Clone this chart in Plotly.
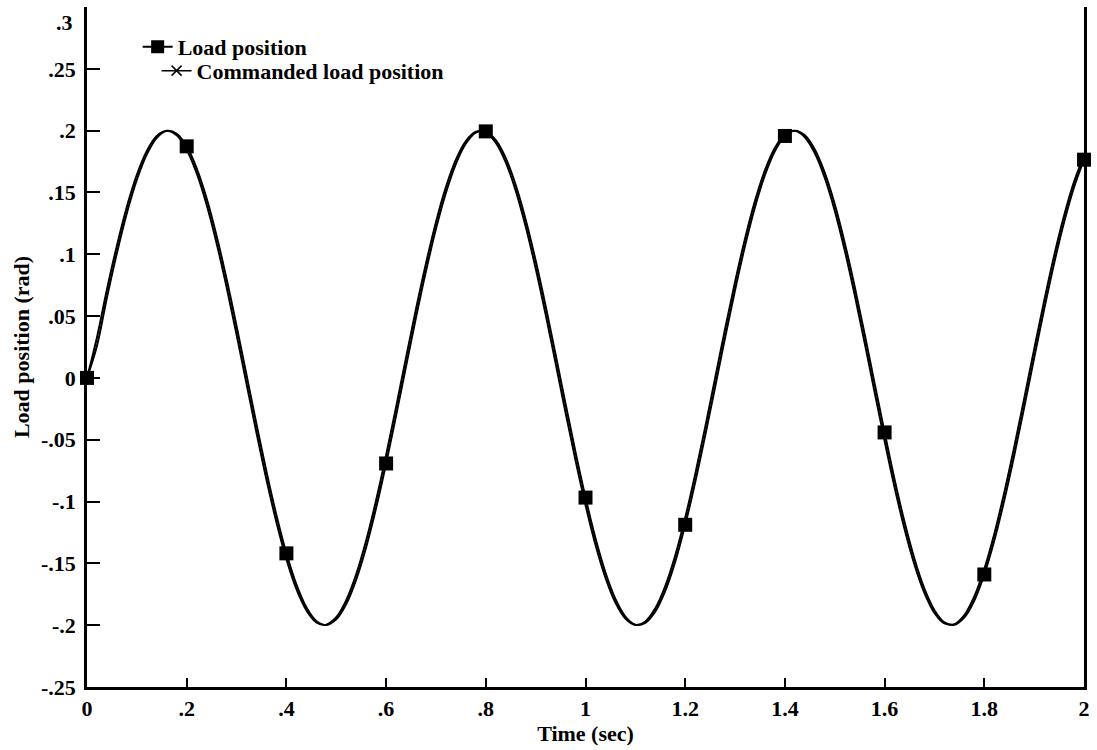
import plotly.graph_objects as go

# Sample times (s)
time_s = [
    0.00, 0.02, 0.04, 0.06, 0.08, 0.10, 0.12, 0.14, 0.16, 0.18,
    0.20, 0.22, 0.24, 0.26, 0.28, 0.30, 0.32, 0.34, 0.36, 0.38,
    0.40, 0.42, 0.44, 0.46, 0.48, 0.50, 0.52, 0.54, 0.56, 0.58,
    0.60, 0.62, 0.64, 0.66, 0.68, 0.70, 0.72, 0.74, 0.76, 0.78,
    0.80, 0.82, 0.84, 0.86, 0.88, 0.90, 0.92, 0.94, 0.96, 0.98,
    1.00, 1.02, 1.04, 1.06, 1.08, 1.10, 1.12, 1.14, 1.16, 1.18,
    1.20, 1.22, 1.24, 1.26, 1.28, 1.30, 1.32, 1.34, 1.36, 1.38,
    1.40, 1.42, 1.44, 1.46, 1.48, 1.50, 1.52, 1.54, 1.56, 1.58,
    1.60, 1.62, 1.64, 1.66, 1.68, 1.70, 1.72, 1.74, 1.76, 1.78,
    1.80, 1.82, 1.84, 1.86, 1.88, 1.90, 1.92, 1.94, 1.96, 1.98,
    2.00,
]

# Commanded load position (rad)
commanded = [
    0.0000, 0.0328, 0.0715, 0.1070, 0.1385, 0.1643, 0.1836, 0.1957, 0.1999, 0.1962,
    0.1846, 0.1656, 0.1401, 0.1090, 0.0735, 0.0351, -0.0047, -0.0443, -0.0822, -0.1167,
    -0.1467, -0.1707, -0.1879, -0.1977, -0.1996, -0.1936, -0.1798, -0.1589, -0.1316, -0.0990,
    -0.0626, -0.0236, 0.0164, 0.0557, 0.0926, 0.1260, 0.1543, 0.1765, 0.1916, 0.1991,
    0.1987, 0.1902, 0.1744, 0.1515, 0.1225, 0.0887, 0.0514, 0.0120, -0.0280, -0.0667,
    -0.1028, -0.1349, -0.1615, -0.1817, -0.1946, -0.1998, -0.1970, -0.1864, -0.1684, -0.1437,
    -0.1131, -0.0781, -0.0400, -0.0003, 0.0395, 0.0776, 0.1126, 0.1432, 0.1680, 0.1862,
    0.1969, 0.1998, 0.1947, 0.1818, 0.1617, 0.1353, 0.1032, 0.0672, 0.0284, -0.0116,
    -0.0509, -0.0884, -0.1222, -0.1511, -0.1741, -0.1901, -0.1986, -0.1991, -0.1918, -0.1767,
    -0.1546, -0.1262, -0.0928, -0.0560, -0.0168, 0.0231, 0.0621, 0.0987, 0.1312, 0.1586,
    0.1796,
]

# Measured load position (rad)
load = [
    0.0000, 0.0260, 0.0650, 0.1011, 0.1334, 0.1603, 0.1808, 0.1942, 0.1998, 0.1975,
    0.1873, 0.1695, 0.1451, 0.1148, 0.0800, 0.0420, 0.0023, -0.0375, -0.0758, -0.1110,
    -0.1419, -0.1670, -0.1855, -0.1966, -0.1999, -0.1953, -0.1829, -0.1631, -0.1369, -0.1051,
    -0.0692, -0.0305, 0.0094, 0.0490, 0.0864, 0.1206, 0.1498, 0.1732, 0.1896, 0.1984,
    0.1994, 0.1923, 0.1778, 0.1560, 0.1280, 0.0949, 0.0581, 0.0190, -0.0211, -0.0601,
    -0.0968, -0.1297, -0.1574, -0.1787, -0.1930, -0.1996, -0.1981, -0.1889, -0.1722, -0.1486,
    -0.1188, -0.0845, -0.0468, -0.0073, 0.0327, 0.0711, 0.1068, 0.1383, 0.1642, 0.1836,
    0.1957, 0.2000, 0.1962, 0.1847, 0.1658, 0.1404, 0.1092, 0.0738, 0.0353, -0.0046,
    -0.0441, -0.0821, -0.1166, -0.1465, -0.1707, -0.1879, -0.1978, -0.1997, -0.1937, -0.1800,
    -0.1590, -0.1316, -0.0990, -0.0627, -0.0238, 0.0162, 0.0555, 0.0926, 0.1259, 0.1543,
    0.1765,
]

x_tickvals = [0, 0.2, 0.4, 0.6, 0.8, 1.0, 1.2, 1.4, 1.6, 1.8, 2.0]
x_ticktext = ["0", ".2", ".4", ".6", ".8", "1", "1.2", "1.4", "1.6", "1.8", "2"]
y_tickvals = [-0.25, -0.2, -0.15, -0.1, -0.05, 0, 0.05, 0.1, 0.15, 0.2, 0.25]
y_ticktext = ["-.25", "-.2", "-.15", "-.1", "-.05", "0", ".05", ".1", ".15", ".2", ".25"]
y_top = 0.3
y_top_text = ".3"

FONT = "Liberation Serif"
INK = "black"
TXT = dict(family=FONT, size=22, color=INK, weight="bold")

fig = go.Figure()

fig.add_trace(go.Scatter(
    x=time_s, y=commanded, mode="lines", line=dict(color=INK, width=2),
    line_shape="spline", showlegend=False, hoverinfo="skip",
))
fig.add_trace(go.Scatter(
    x=time_s, y=load, mode="lines", line=dict(color=INK, width=2),
    line_shape="spline", showlegend=False,
))
# square markers every 0.2 s on the measured curve
fig.add_trace(go.Scatter(
    x=time_s[::10], y=load[::10], mode="markers",
    marker=dict(symbol="square", size=14, color=INK),
    showlegend=False, cliponaxis=False,
))

# legend entries
fig.add_trace(go.Scatter(
    x=[None], y=[None], mode="lines+markers", name="Load position",
    line=dict(color=INK, width=2),
    marker=dict(symbol="square", size=13, color=INK),
    legend="legend",
))
fig.add_trace(go.Scatter(
    x=[None], y=[None], mode="lines+markers", name="Commanded load position",
    line=dict(color=INK, width=1.5),
    marker=dict(symbol="x-thin", size=10, color=INK, line=dict(color=INK, width=1.5)),
    legend="legend2",
))

axis_common = dict(
    showgrid=False, zeroline=False, showline=True, linecolor=INK, linewidth=2.5,
    ticks="inside", tickcolor=INK, tickwidth=2,
    tickfont=TXT, tickmode="array",
)

fig.update_layout(
    width=1097, height=750,
    margin=dict(l=87, r=7, t=7, b=63),
    paper_bgcolor="white", plot_bgcolor="white",
    font=TXT,
    xaxis=dict(
        range=[0, 2], tickvals=x_tickvals, ticktext=x_ticktext, ticklen=9,
        title=dict(text="Time (sec)", font=TXT, standoff=6),
        **axis_common,
    ),
    yaxis=dict(
        range=[-0.25, y_top], tickvals=y_tickvals, ticktext=y_ticktext, ticklen=13,
        mirror=True, ticklabelstandoff=4,
        title=dict(text="Load position (rad)", font=TXT, standoff=6),
        **axis_common,
    ),
    legend=dict(
        x=0.0508, y=0.972, xanchor="left", yanchor="top",
        bgcolor="rgba(0,0,0,0)", borderwidth=0, font=TXT,
    ),
    legend2=dict(
        x=0.0698, y=0.937, xanchor="left", yanchor="top",
        bgcolor="rgba(0,0,0,0)", borderwidth=0, font=TXT,
    ),
    annotations=[dict(
        text=y_top_text, xref="paper", yref="y", x=0, y=y_top,
        xanchor="right", yanchor="middle", xshift=-12, yshift=-15,
        showarrow=False, font=TXT,
    )],
)

fig.write_html("out.html")
